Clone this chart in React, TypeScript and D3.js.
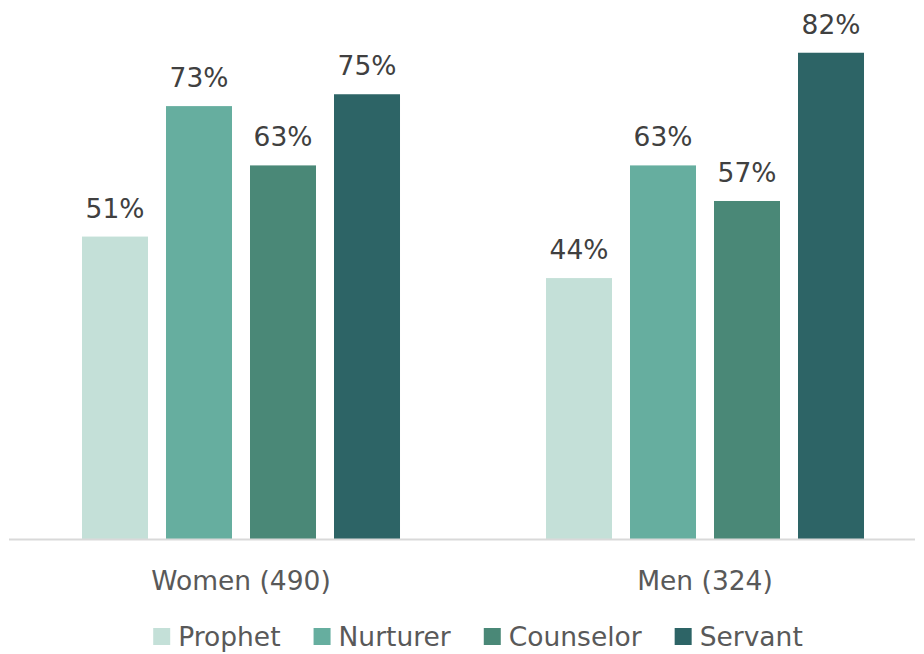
import React, { useMemo } from "react";
import * as d3 from "d3";

const groups = ["Women (490)", "Men (324)"];
const series = ["Prophet", "Nurturer", "Counselor", "Servant"];
const colors = ["#c4e0d8", "#66ae9f", "#4a8877", "#2d6466"];
const women = [51, 73, 63, 75];
const men = [44, 63, 57, 82];
const values = [women, men];

const W = 924;
const H = 654;
const FONT = "DejaVu Sans, Verdana, sans-serif";
const FS = 26.5;

export default function App() {
  const x0 = d3.scaleBand<string>().domain(groups).range([9, 937]).padding(0);
  const x1 = d3
    .scaleBand<string>()
    .domain(series)
    .range([0, x0.bandwidth()])
    .paddingInner(18 / 84)
    .paddingOuter(0.869);
  const y = d3.scaleLinear().domain([0, 90]).range([539, 5.3]);

  const legend = useMemo(() => {
    const canvas = document.createElement("canvas");
    const ctx = canvas.getContext("2d")!;
    ctx.font = `${FS}px ${FONT}`;
    const sq = 17, gapT = 8, gapI = 33;
    const widths = series.map((s) => ctx.measureText(s).width);
    const total = widths.reduce((a, w) => a + sq + gapT + w, 0) + gapI * (series.length - 1);
    let cx = 478 - total / 2;
    return series.map((s, i) => {
      const item = { s, x: cx, i };
      cx += sq + gapT + widths[i] + gapI;
      return item;
    });
  }, []);

  return (
    <svg width={W} height={H} style={{ position: "absolute", left: 0, top: 0 }}>
      <rect width={W} height={H} fill="#fff" />
      {groups.map((g, gi) => (
        <g key={g} transform={`translate(${x0(g)},0)`}>
          {series.map((s, si) => {
            const v = values[gi][si];
            return (
              <g key={s}>
                <rect
                  x={x1(s)}
                  y={y(v)}
                  width={x1.bandwidth()}
                  height={y(0) - y(v)}
                  fill={colors[si]}
                />
                <text
                  x={(x1(s) as number) + x1.bandwidth() / 2}
                  y={y(v) - 19}
                  textAnchor="middle"
                  fontFamily={FONT}
                  fontSize={FS}
                  fill="#404040"
                >
                  {v}%
                </text>
              </g>
            );
          })}
          <text
            x={x0.bandwidth() / 2}
            y={590}
            textAnchor="middle"
            fontFamily={FONT}
            fontSize={FS}
            fill="#595959"
          >
            {g}
          </text>
        </g>
      ))}
      <line x1={9} x2={915} y1={539.5} y2={539.5} stroke="#d9d9d9" strokeWidth={2} />
      {legend.map((l) => (
        <g key={l.s}>
          <rect x={l.x} y={628} width={17} height={17} fill={colors[l.i]} />
          <text x={l.x + 25} y={646} fontFamily={FONT} fontSize={FS} fill="#595959">
            {l.s}
          </text>
        </g>
      ))}
    </svg>
  );
}
